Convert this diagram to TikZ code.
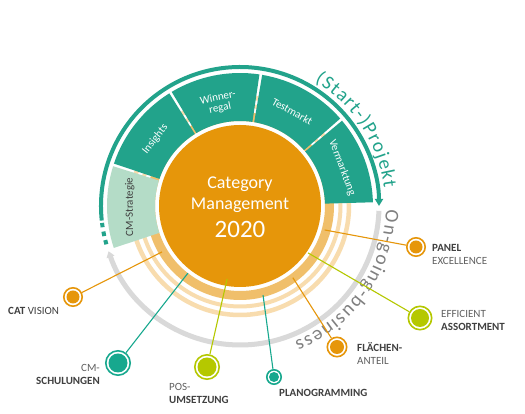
\documentclass[tikz,border=0pt]{standalone}
\usepackage{fontspec}
\setmainfont{Carlito}
\usetikzlibrary{arrows.meta,decorations.text}
\definecolor{tealc}{HTML}{22A38B}
\definecolor{mintc}{HTML}{B4DCC7}
\definecolor{orangec}{HTML}{E6960A}
\definecolor{bandA}{HTML}{F0BF6B}
\definecolor{bandB}{HTML}{F8DCAE}
\definecolor{grayarc}{HTML}{D9D9D9}
\definecolor{graytext}{HTML}{808080}
\definecolor{greenc}{HTML}{B5C800}
\definecolor{tealdot}{HTML}{17A88E}
\definecolor{labdark}{HTML}{404040}
\definecolor{labgray}{HTML}{606060}
\tikzset{
  seglab/.style={text=white, font=\fontsize{11}{11}\selectfont, align=center, inner sep=0pt},
  ctext/.style={text=white, inner sep=0pt, anchor=base},
  ring/.style={circle, draw=#1, line width=1.6pt, fill=white, inner sep=0pt},
  conn/.style={draw=#1, line width=1.1pt},
  lab/.style={font=\fontsize{11}{13}\selectfont, inner sep=0pt, text=labgray}
}
\begin{document}
\begin{tikzpicture}[x=1pt,y=1pt]
\useasboundingbox[fill=white] (0,0) rectangle (525,414);
\coordinate (C) at (240,208);
% background rings
\draw[bandB, line width=4.5pt] (C) circle[radius=109];
\draw[bandB, line width=4pt] (C) circle[radius=100.5];
\draw[bandA, line width=9pt] (C) circle[radius=89.5];
% core
\node[circle, fill=orangec, minimum size=162pt, inner sep=0pt] (core) at (C) {};
% segments
\foreach \a/\b/\col in {1/40.5/tealc, 40.5/81/tealc, 81/121.5/tealc, 121.5/162/tealc, 162/199/mintc}{
  \pgfmathsetmacro\sa{\a+0.6}
  \pgfmathsetmacro\sb{\b-0.6}
  \fill[\col] ([shift={(\sa:85)}]C) arc[start angle=\sa, end angle=\sb, radius=85]
     -- ([shift={(\sb:133)}]C) arc[start angle=\sb, end angle=\sa, radius=133] -- cycle;
}
% project arc
\draw[tealc, line width=4pt, -{Triangle[width=8pt,length=7pt]}] ([shift={(186:139)}]C) arc[start angle=186, end angle=0, radius=139];
\foreach \s/\e in {187/188.8, 190.6/192.5, 194.2/196}{
  \draw[tealc, line width=4pt] ([shift={(\s:139)}]C) arc[start angle=\s, end angle=\e, radius=139];
}
% ongoing arc
\draw[grayarc, line width=5pt, -{Triangle[width=8pt,length=6pt]}] ([shift={(-2:139)}]C) arc[start angle=-2, end angle=-161, radius=139];
% arc texts
\path[decorate, decoration={text along path, text align=fit to path,
  text={|\fontsize{19.5}{19.5}\selectfont\color{tealc}|(Start-)Projekt}}]
  ([shift={(59:145)}]C) arc[start angle=59, end angle=7, radius=145];
\path[decorate, decoration={text along path, text align=fit to path,
  text={|\fontsize{19.5}{19.5}\selectfont\color{graytext}|On-going-business}}]
  ([shift={(-1.5:146)}]C) arc[start angle=-1.5, end angle=-68, radius=146];
% segment labels
\node[seglab, rotate=51.75] (ins) at ([shift={(141.75:108)}]C) {Insights};
\node[seglab, rotate=11.5] (win) at ([shift={(101.5:105)}]C) {Winner-\\regal};
\node[seglab, rotate=-29] (tst) at ([shift={(61:108)}]C) {Testmarkt};
\node[seglab, rotate=-69.5] (ver) at ([shift={(20.5:109)}]C) {Vermarktung};
\node[seglab, rotate=90.5, text=labdark] (cms) at ([shift={(180.5:110)}]C) {CM-Strategie};
% center text
\node[ctext, font=\fontsize{18}{18}\selectfont] (t1) at (240,225) {Category};
\node[ctext, font=\fontsize{18}{18}\selectfont] (t2) at (240,204) {Management};
\node[ctext, font=\fontsize{25}{25}\selectfont] (t3) at (240,176) {2020};
% connector start points
\coordinate (s1) at ([shift={(-15.8:88)}]C);
\coordinate (s2) at ([shift={(-34.6:82.7)}]C);
\coordinate (s3) at ([shift={(-53.6:89)}]C);
\coordinate (s4) at ([shift={(-75.5:92)}]C);
\coordinate (s5) at ([shift={(-100:74)}]C);
\coordinate (s6) at ([shift={(-127.8:85)}]C);
\coordinate (s7) at ([shift={(-149.5:90.5)}]C);
% dots
\node[ring=orangec, minimum size=18.4pt] (d1) at (416,167) {};
\node[ring=greenc, minimum size=23.4pt] (d2) at (420,96) {};
\node[ring=orangec, minimum size=19.4pt] (d3) at (337,67) {};
\node[ring=tealdot, minimum size=14.4pt] (d4) at (274,37) {};
\node[ring=greenc, minimum size=24.4pt] (d5) at (207,47) {};
\node[ring=tealdot, minimum size=24.4pt] (d6) at (118,51) {};
\node[ring=orangec, minimum size=18.4pt] (d7) at (73,117) {};
% connectors
\draw[conn=orangec] (s1) -- (d1);
\draw[conn=greenc] (s2) -- (d2);
\draw[conn=orangec] (s3) -- (d3);
\draw[conn=tealdot] (s4) -- (d4);
\draw[conn=greenc] (s5) -- (d5);
\draw[conn=tealdot] (s6) -- (d6);
\draw[conn=orangec] (s7) -- (d7);
% dot fills
\fill[orangec] (d1.center) circle[radius=6.5];
\fill[greenc] (d2.center) circle[radius=9];
\fill[orangec] (d3.center) circle[radius=7];
\fill[tealdot] (d4.center) circle[radius=5];
\fill[greenc] (d5.center) circle[radius=9.5];
\fill[tealdot] (d6.center) circle[radius=9.5];
\fill[orangec] (d7.center) circle[radius=6.5];
% labels
\node[lab, anchor=west, align=left] (l1) at (432,160) {{\bfseries\color{labdark}PANEL}\\EXCELLENCE};
\node[lab, anchor=west, align=left] (l2) at (441,94) {EFFICIENT\\{\bfseries\color{labdark}ASSORTMENT}};
\node[lab, anchor=west, align=left] (l3) at (357,60) {{\bfseries\color{labdark}FLÄCHEN-}\\ANTEIL};
\node[lab, anchor=west, text=labdark, font=\fontsize{11}{13}\selectfont\bfseries] (l4) at (279,21) {PLANOGRAMMING};
\node[lab, anchor=west, align=left] (l5) at (169,21) {POS-\\{\bfseries\color{labdark}UMSETZUNG}};
\node[lab, anchor=east, align=right] (l6) at (100,40) {CM-\\{\bfseries\color{labdark}SCHULUNGEN}};
\node[lab, anchor=west, text=labdark] (l7) at (8,103) {{\bfseries CAT} VISION};
\end{tikzpicture}
\end{document}
